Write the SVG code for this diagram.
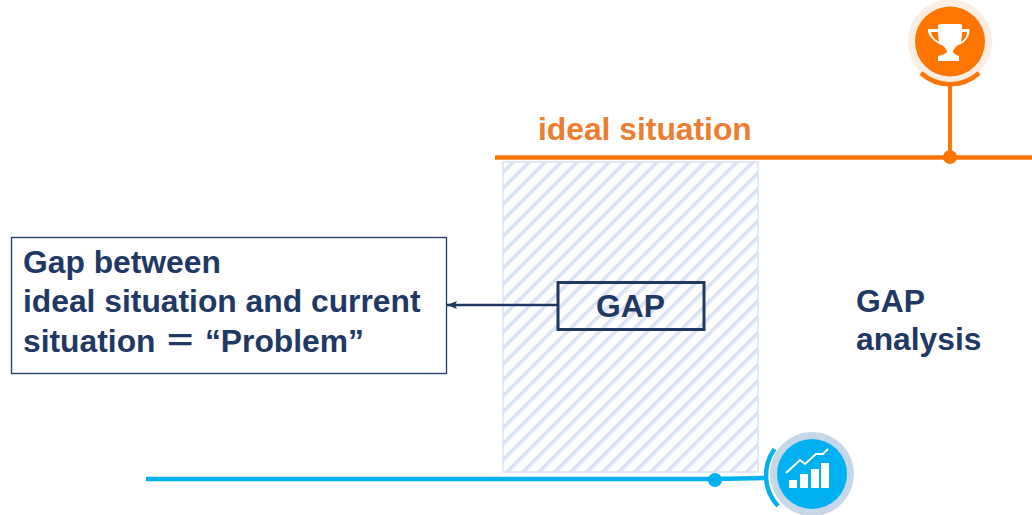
<svg xmlns="http://www.w3.org/2000/svg" width="1032" height="515" viewBox="0 0 1032 515">
<style>
text{font-family:"Liberation Sans","Noto Sans CJK JP",Arial,sans-serif;font-weight:700}
.navy{fill:#1f3864}
.t{font-size:31.800px}
.o{fill:none;stroke:#ff7500}
.b{fill:none;stroke:#00b0f0}
</style>
<defs>
<pattern id="hatch" width="11.300" height="11.300" patternUnits="userSpaceOnUse" patternTransform="rotate(45 503 162)">
<rect x="0" y="0" width="3.600" height="11.300" fill="#dae3f3"/>
</pattern>
<marker id="arrow" markerWidth="11" markerHeight="10" refX="10" refY="5" orient="auto" markerUnits="userSpaceOnUse"><path d="M0 1L10 5L0 9L2 5z" fill="#1f3864"/></marker>
</defs>
<g id="gap-area"><rect x="503" y="162" width="255" height="310" fill="url(#hatch)" stroke="#dae3f3" stroke-width="1.500"/></g>
<g id="connectors">
<path class="o" stroke-width="4.500" d="M495 157.400H1032"/>
<path class="o" stroke-width="4" d="M950 86V157"/>
<path class="b" stroke-width="4.500" d="M146 479H715L764 478"/>
<path fill="none" stroke="#1f3864" stroke-width="2.400" d="M557 305H447" marker-end="url(#arrow)"/>
</g>
<g id="ideal-label"><text x="538" y="140" font-size="31.800" fill="#ed7d31">ideal situation</text></g>
<g id="trophy-node">
<circle cx="950" cy="41.500" r="42" fill="#f9ede4"/>
<circle cx="950" cy="41.500" r="35" fill="#ff7500"/>
<path class="o" stroke-width="4.500" d="M921 73A43 43 0 0 0 979 73"/>
<path fill="#fff" d="M940 24H960Q962 24 962 26V29H969.500Q970 37 964 42Q960 45 958 45Q954 48 953 51Q953 54 959 56V61H938V56Q947 54 947 51Q946 48 942 45Q940 45 936 42Q929.500 37 928 32V29H938V26Q938 24 940 24ZM931 32Q932 38 939 42Q938 37 938 32ZM962 32Q962 37 961 42Q967 38 967 32Z"/>
<circle cx="950" cy="157" r="7" fill="#ff7500"/>
</g>
<g id="current-node">
<circle cx="812" cy="474" r="42" fill="#c5d7e9"/>
<circle cx="812" cy="474" r="35" fill="#00b0f0"/>
<path class="b" stroke-width="4.500" d="M774.500 449A45 45 0 0 0 778 506"/>
<circle cx="715" cy="480" r="7" fill="#00b0f0"/>
<path fill="#fff" d="M789 480h8v8h-8zM800 474h8v14h-8zM811 469h8v19h-8zM821 463h8v25h-8z"/>
<path fill="none" stroke="#fff" stroke-width="2" d="M786 473L800 460L805 464L816 454H823L828 449"/>
</g>
<g id="gap-box">
<rect x="558" y="282.500" width="146" height="47" fill="none" stroke="#1f3864" stroke-width="3"/>
<text class="navy t" x="630.500" y="317" text-anchor="middle">GAP</text>
</g>
<g id="problem-box">
<rect x="11.500" y="237.500" width="435" height="136" fill="#fff" stroke="#1f3864" stroke-width="1.300"/>
<text class="navy t" x="23" y="273">Gap between</text>
<text class="navy t" x="23" y="312">ideal situation and current</text>
<text class="navy t" x="23" y="352" xml:space="preserve">situation ＝ “Problem”</text>
</g>
<g id="gap-analysis"><text class="navy t" x="856" y="312">GAP</text><text class="navy t" x="856" y="350">analysis</text></g>
</svg>
